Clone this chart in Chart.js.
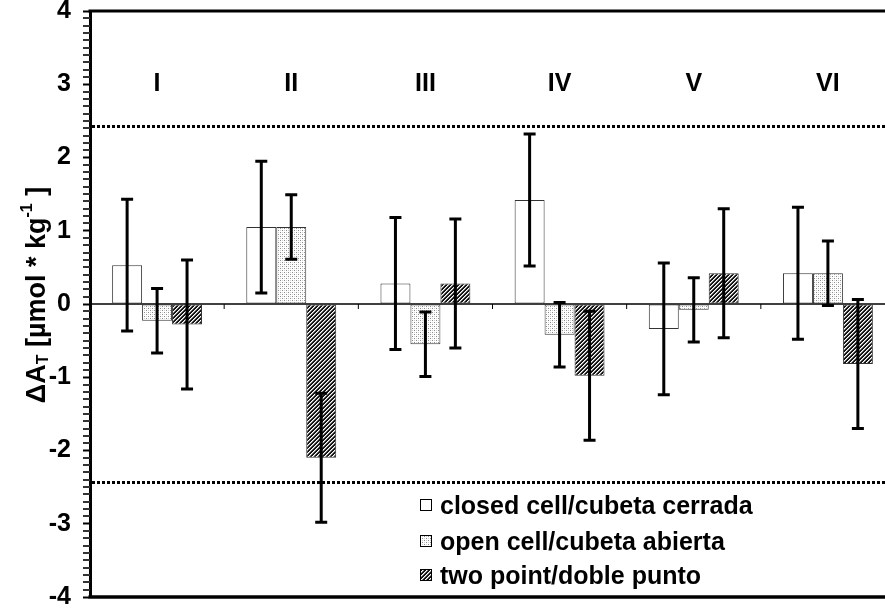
<!DOCTYPE html>
<html>
<head>
<meta charset="utf-8">
<script src="https://cdn.jsdelivr.net/npm/chart.js@4.4.1/dist/chart.umd.min.js"></script>
<style>
  html, body { margin: 0; padding: 0; background: #fff; overflow: hidden; }
  #wrap { width: 900px; height: 611px; }
</style>
</head>
<body>
<div id="wrap"><canvas id="chart" width="900" height="611"></canvas></div>
<script>
// ---- datos ----
const categories = ["I", "II", "III", "IV", "V", "VI"];
const closedCell = [0.53, 1.05, 0.28, 1.42, -0.34, 0.42];
const openCell   = [-0.23, 1.05, -0.55, -0.42, -0.08, 0.42];
const twoPoint   = [-0.28, -2.10, 0.28, -0.98, 0.42, -0.82];
const closedErr  = [0.90, 0.90, 0.90, 0.90, 0.90, 0.90];
const openErr    = [0.44, 0.44, 0.44, 0.44, 0.44, 0.44];
const twoErr     = [0.88, 0.88, 0.88, 0.88, 0.88, 0.88];
const seriesNames = ["closed cell/cubeta cerrada", "open cell/cubeta abierta", "two point/doble punto"];
const limitLines = [2.43, -2.43];
const yTicks = [-4, -3, -2, -1, 0, 1, 2, 3, 4];
const groupLabelLevel = 3.0;

const FONT = "Arial, 'Liberation Sans', Helvetica, sans-serif";

// ---- patrones ----
function stipple() {
  const c = document.createElement("canvas");
  c.width = 4; c.height = 4;
  const g = c.getContext("2d");
  g.fillStyle = "#fff"; g.fillRect(0, 0, 4, 4);
  g.fillStyle = "#8a8a8a";
  g.fillRect(0, 0, 1, 1); g.fillRect(2, 2, 1, 1);
  g.fillStyle = "#d0d0d0";
  g.fillRect(2, 0, 1, 1); g.fillRect(0, 2, 1, 1);
  return g.createPattern(c, "repeat");
}
function hatch() {
  const n = 4;
  const c = document.createElement("canvas");
  c.width = n; c.height = n;
  const g = c.getContext("2d");
  for (let x = 0; x < n; x++) for (let y = 0; y < n; y++) {
    const k = (x + y) % n;
    g.fillStyle = k === 0 ? "#fff" : (k === 1 ? "#999" : "#141414");
    g.fillRect(x, y, 1, 1);
  }
  return g.createPattern(c, "repeat");
}
const fills = ["#ffffff", stipple(), hatch()];
const errs = [closedErr, openErr, twoErr];

// ---- plugin: linea cero, errores, etiquetas, leyenda ----
const extras = {
  id: "extras",
  beforeDatasetsDraw(chart) {
    const { ctx, chartArea: a, scales: { x, y } } = chart;
    const y0 = y.getPixelForValue(0);
    ctx.save();
    ctx.strokeStyle = "#000";
    ctx.lineWidth = 1.5;
    ctx.beginPath(); ctx.moveTo(a.left, y0); ctx.lineTo(a.right, y0); ctx.stroke();
    // marcas entre grupos
    ctx.lineWidth = 1;
    for (let i = 1; i < categories.length; i++) {
      const bx = (x.getPixelForValue(i - 1) + x.getPixelForValue(i)) / 2;
      ctx.beginPath(); ctx.moveTo(bx, y0); ctx.lineTo(bx, y0 + 5); ctx.stroke();
    }
    ctx.restore();
  },
  afterDatasetsDraw(chart) {
    const { ctx, chartArea: a, scales: { x, y } } = chart;
    ctx.save();

    // barras de error
    ctx.strokeStyle = "#000";
    ctx.lineWidth = 3;
    chart.data.datasets.forEach((ds, di) => {
      const meta = chart.getDatasetMeta(di);
      meta.data.forEach((bar, i) => {
        const v = ds.data[i], e = errs[di][i];
        const cx = bar.x;
        const yt = y.getPixelForValue(v + e), yb = y.getPixelForValue(v - e);
        ctx.beginPath();
        ctx.moveTo(cx, yt); ctx.lineTo(cx, yb);
        ctx.moveTo(cx - 6, yt); ctx.lineTo(cx + 6, yt);
        ctx.moveTo(cx - 6, yb); ctx.lineTo(cx + 6, yb);
        ctx.stroke();
      });
    });

    // lineas punteadas
    ctx.lineWidth = 3;
    ctx.setLineDash([3, 2]);
    limitLines.forEach(v => {
      const py = Math.round(y.getPixelForValue(v)) + 0.5;
      ctx.beginPath(); ctx.moveTo(a.left + 2, py); ctx.lineTo(a.right, py); ctx.stroke();
    });
    ctx.setLineDash([]);

    // numeros romanos
    ctx.fillStyle = "#000";
    ctx.font = "bold 25px " + FONT;
    ctx.textAlign = "center";
    ctx.textBaseline = "middle";
    categories.forEach((c, i) => {
      ctx.fillText(c, x.getPixelForValue(i), y.getPixelForValue(groupLabelLevel));
    });

    // leyenda
    ctx.textAlign = "left";
    ctx.font = "bold 25px " + FONT;
    const rows = [507, 543, 577];
    seriesNames.forEach((name, i) => {
      ctx.fillStyle = fills[i];
      ctx.fillRect(420, rows[i] - 8, 11, 11);
      ctx.lineWidth = 1;
      ctx.strokeStyle = "#000";
      ctx.strokeRect(420.5, rows[i] - 7.5, 11, 11);
      ctx.fillStyle = "#000";
      ctx.fillText(name, 440, rows[i]);
    });
    ctx.restore();
  },
  afterDraw(chart) {
    const { ctx, chartArea: a, scales: { y } } = chart;
    ctx.save();
    ctx.strokeStyle = "#000";
    // marco superior e inferior
    ctx.lineWidth = 3;
    ctx.beginPath(); ctx.moveTo(a.left - 1.5, a.top); ctx.lineTo(a.right, a.top); ctx.stroke();
    ctx.lineWidth = 3.5;
    ctx.beginPath(); ctx.moveTo(a.left - 1.5, a.bottom); ctx.lineTo(a.right, a.bottom); ctx.stroke();
    // marcas menores cada 0.1
    ctx.lineWidth = 2;
    ctx.strokeStyle = "#333";
    for (let k = -40; k <= 40; k++) {
      if (k % 10 === 0) continue;
      const py = Math.round(y.getPixelForValue(k / 10));
      ctx.beginPath(); ctx.moveTo(a.left - 7, py); ctx.lineTo(a.left, py); ctx.stroke();
    }
    // titulo eje y
    ctx.translate(38, 295);
    ctx.rotate(-Math.PI / 2);
    ctx.fillStyle = "#000";
    ctx.textBaseline = "middle";
    ctx.textAlign = "left";
    const parts = [
      { t: "ΔA", f: 27, dy: 0 },
      { t: "T", f: 16, dy: 6 },
      { t: " [µmol * kg", f: 27, dy: 0 },
      { t: "-1", f: 16, dy: -10 },
      { t: " ]", f: 27, dy: 0 }
    ];
    let total = 0;
    parts.forEach(p => { ctx.font = "bold " + p.f + "px " + FONT; p.w = ctx.measureText(p.t).width; total += p.w; });
    let px = -total / 2;
    parts.forEach(p => {
      ctx.font = "bold " + p.f + "px " + FONT;
      ctx.fillText(p.t, px, p.dy);
      px += p.w;
    });
    ctx.restore();
  }
};

const datasets = [closedCell, openCell, twoPoint].map((d, i) => ({
  label: seriesNames[i],
  data: d,
  backgroundColor: fills[i],
  borderColor: "#333",
  borderWidth: 1,
  borderSkipped: false,
  categoryPercentage: 0.67,
  barPercentage: 1.0
}));

new Chart(document.getElementById("chart"), {
  type: "bar",
  data: { labels: categories, datasets },
  options: {
    responsive: false,
    devicePixelRatio: 1,
    animation: false,
    layout: { padding: { top: 11, bottom: 14, right: 5, left: 0 } },
    plugins: { legend: { display: false }, tooltip: { enabled: false } },
    scales: {
      x: { display: false },
      y: {
        min: -4, max: 4,
        afterFit(s) { s.width = 90; s.paddingTop = 0; s.paddingBottom = 0; },
        afterBuildTicks(s) { s.ticks = yTicks.map(v => ({ value: v })); },
        ticks: { color: "#000", font: { family: FONT, size: 25, weight: "bold" }, padding: 12 },
        grid: { drawOnChartArea: false, drawTicks: true, tickLength: 7, tickColor: "#000", tickWidth: 2 },
        border: { display: true, color: "#000", width: 3 }
      }
    }
  },
  plugins: [extras]
});
</script>
</body>
</html>
